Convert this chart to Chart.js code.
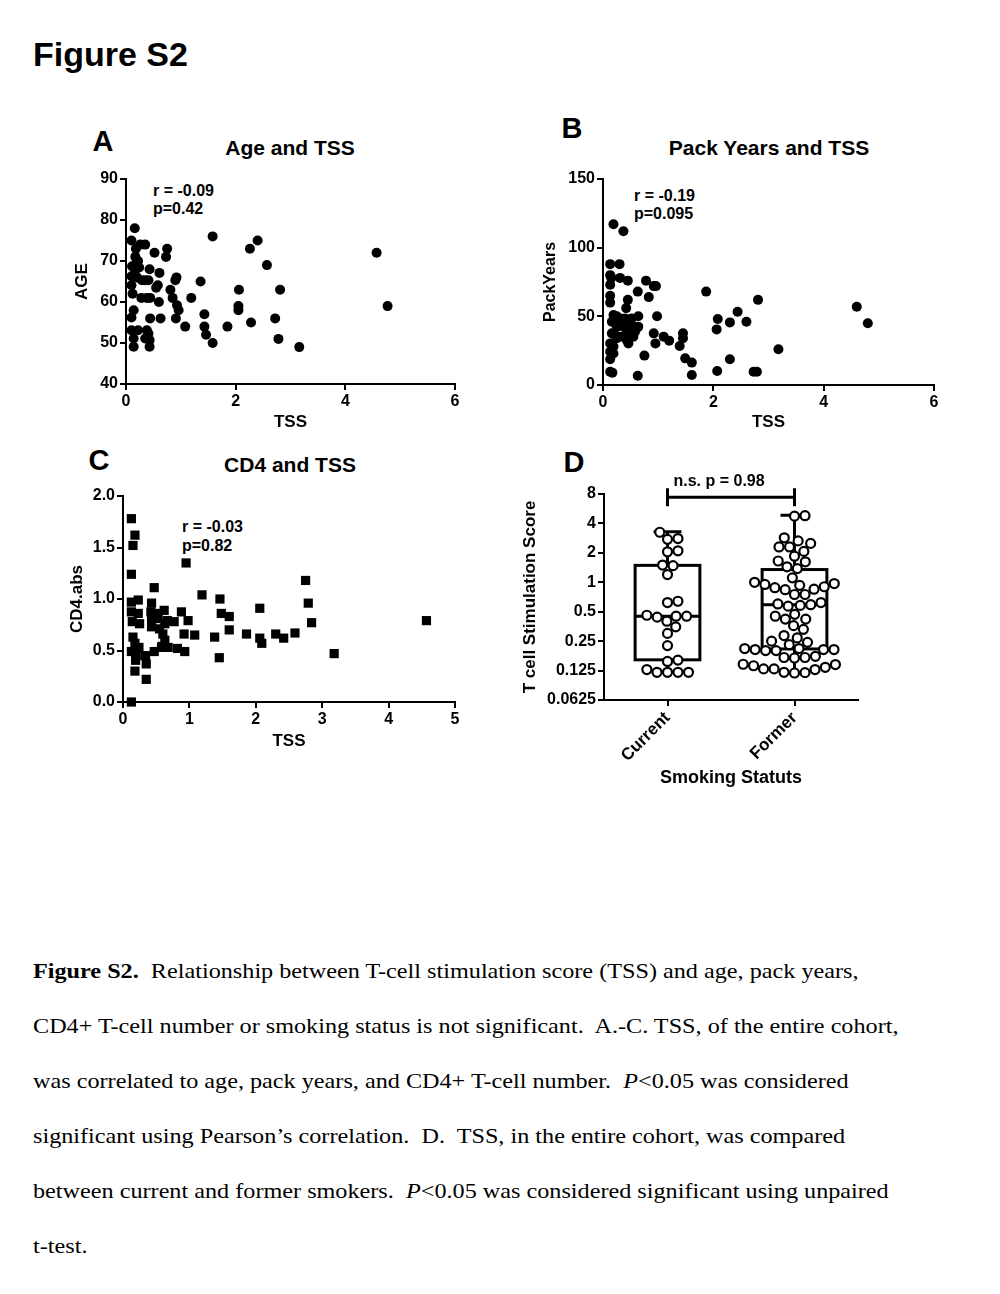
<!DOCTYPE html>
<html>
<head>
<meta charset="utf-8">
<title>Figure S2</title>
<script src="https://cdn.jsdelivr.net/npm/chart.js@4.4.1/dist/chart.umd.min.js"></script>
<style>
  html, body { margin: 0; padding: 0; background: #fff; }
  #page { position: relative; width: 1000px; height: 1294px; background: #fff; overflow: hidden;
          font-family: 'Liberation Sans', Arial, sans-serif; color: #000; }
  .t { position: absolute; line-height: 1; white-space: nowrap; font-weight: bold; }
  .c { transform: translate(-50%, -50%); }
  .l { transform: translate(0, -50%); }
  canvas { position: absolute; }
  #caption { position: absolute; left: 33px; top: 943px; font-family: 'Liberation Serif', 'Times New Roman', serif;
             font-size: 22px; line-height: 55px; white-space: pre;
             transform: scaleX(1.1); transform-origin: 0 0; }
</style>
</head>
<body>
<div id="page">
  <div class="t" style="left:33px;top:37px;font-size:34px;">Figure S2</div>

  <div class="t c" style="left:103px;top:141px;font-size:29px;">A</div>
  <div class="t c" style="left:290px;top:147px;font-size:21px;">Age and TSS</div>
  <div class="t l" style="left:153px;top:191px;font-size:16px;">r = -0.09</div>
  <div class="t l" style="left:153px;top:209px;font-size:16px;">p=0.42</div>

  <div class="t c" style="left:572px;top:128px;font-size:29px;">B</div>
  <div class="t c" style="left:769px;top:147px;font-size:21px;">Pack Years and TSS</div>
  <div class="t l" style="left:634px;top:196px;font-size:16px;">r = -0.19</div>
  <div class="t l" style="left:634px;top:214px;font-size:16px;">p=0.095</div>

  <div class="t c" style="left:99px;top:460px;font-size:29px;">C</div>
  <div class="t c" style="left:290px;top:464px;font-size:21px;">CD4 and TSS</div>
  <div class="t l" style="left:182px;top:527px;font-size:16px;">r = -0.03</div>
  <div class="t l" style="left:182px;top:546px;font-size:16px;">p=0.82</div>

  <div class="t c" style="left:574px;top:462px;font-size:29px;">D</div>

  <canvas id="chartA" width="408" height="273" style="left:72px;top:160px;"></canvas>
  <canvas id="chartB" width="419" height="273" style="left:541px;top:160px;"></canvas>
  <canvas id="chartC" width="413" height="276" style="left:67px;top:476px;"></canvas>
  <canvas id="chartD" width="355" height="323" style="left:520px;top:466px;"></canvas>

  <div id="caption"><b>Figure S2.</b>  Relationship between T-cell stimulation score (TSS) and age, pack years,
CD4+ T-cell number or smoking status is not significant.  A.-C. TSS, of the entire cohort,
was correlated to age, pack years, and CD4+ T-cell number.  <i>P</i>&lt;0.05 was considered
significant using Pearson’s correlation.  D.  TSS, in the entire cohort, was compared
between current and former smokers.  <i>P</i>&lt;0.05 was considered significant using unpaired
t-test.</div>
</div>

<script>
// ---- data ----
// A: Age vs TSS
const A_TSS = [0.16,0.1,0.18,0.26,0.35,0.17,0.11,0.18,0.24,0.17,0.22,0.43,0.1,0.2,0.29,0.41,0.35,0.1,0.12,0.28,
  0.38,0.44,0.14,0.1,0.1,0.22,0.38,0.41,0.14,0.35,0.43,0.14,0.43,0.52,0.61,0.58,0.55,0.6,0.63,0.44,
  0.75,0.73,0.81,0.85,0.9,0.92,0.93,0.96,0.91,1.08,1.19,1.36,1.43,1.43,1.46,1.58,1.58,1.85,2.05,2.05,
  2.06,2.28,2.26,2.4,2.57,2.72,2.81,2.78,3.16,4.57,4.77];
const A_AGE = [78,75,73,74,74,71,68.7,69.2,68.4,67.8,70,68,66.3,66,65.3,65.3,65.3,64.1,62,61,
  61,61,58,56.2,53.1,53.1,53.1,52.3,51.1,51.1,50.7,49.1,49.1,72,67.1,64.1,63.5,60,56,56,
  73,71,63,61,65.3,66,59.2,58,56,54,61,65,57,54,52,50,76,54,59,58,
  63,55,73,75,69,56,63,51,49,72,59];

// B: Pack years vs TSS
const B_TSS = [0.19,0.37,0.13,0.3,0.13,0.15,0.13,0.31,0.45,0.78,0.92,0.96,0.63,0.83,0.45,0.42,0.13,0.13,0.98,0.19,
  0.25,0.31,0.4,0.46,0.52,0.64,0.16,0.22,0.25,0.34,0.46,0.55,0.64,0.16,0.22,0.31,0.43,0.49,0.58,0.61,
  0.13,0.19,0.25,0.43,0.46,0.55,0.13,0.19,0.13,0.13,0.17,0.63,0.75,0.92,0.95,1.1,1.2,1.39,1.45,1.45,
  1.49,1.61,1.61,1.87,2.08,2.06,2.3,2.44,2.6,2.81,2.3,2.07,2.73,2.79,3.18,4.6,4.8];
const B_PACKYEARS = [117,112,88,88,80,78,73,78,76,76,72,72,68,64,62,56,65,60,50,51,
  50,48.5,48.5,47,48.5,50,46,45,42.5,43,44,42.5,42.5,37.6,36.4,35.2,38.8,36.4,38.8,41.3,
  30.3,28,34,32.8,30.3,35.2,24.3,23,18.7,9.7,9,6.8,21.4,37.6,30.3,35.2,32.3,28.4,37.6,34,
  19.4,16.3,7.3,68,48,40.5,45.6,53.4,46,62,18.7,10.2,9.7,9.7,26,57,45];

// C: CD4.abs vs TSS
const C_TSS = [0.126,0.18,0.15,0.126,0.95,0.47,0.43,0.126,0.23,0.126,0.23,0.42,0.5,0.62,0.14,0.25,0.43,0.53,0.43,0.55,
  0.63,0.67,0.77,0.88,0.98,0.15,0.18,0.126,0.24,0.2,0.34,0.6,0.63,0.59,0.47,0.58,0.68,0.19,0.35,0.18,
  0.35,0.126,0.82,0.93,0.92,1.08,1.19,1.46,1.38,1.48,1.6,1.6,1.45,1.86,2.06,2.06,2.09,2.3,2.42,2.59,
  2.75,2.79,2.84,3.18,4.57];
const C_CD4 = [1.78,1.62,1.52,1.24,1.35,1.11,0.96,0.97,0.99,0.875,0.86,0.875,0.86,0.89,0.78,0.76,0.81,0.81,0.73,0.71,
  0.76,0.79,0.78,0.875,0.79,0.63,0.57,0.49,0.53,0.45,0.45,0.66,0.6,0.54,0.49,0.53,0.53,0.405,0.37,0.3,
  0.22,0.0,0.52,0.49,0.66,0.65,1.04,1.0,0.63,0.86,0.83,0.7,0.43,0.66,0.91,0.62,0.57,0.66,0.62,0.67,
  1.18,0.96,0.77,0.47,0.79];

// D: T cell stimulation score by smoking status
const D_GROUPS = ['Current', 'Former'];
const D_CURRENT = [3.25,2.75,2.8,2.05,2.1,1.48,1.5,1.2,0.62,0.64,0.45,0.45,0.44,0.46,0.4,0.35,0.3,0.225,
  0.155,0.16,0.12,0.12,0.12,0.12,0.128];
const D_FORMER = [4.75,4.8,2.85,2.65,2.5,2.3,2.3,2.07,1.85,1.65,1.62,1.44,1.38,1.11,1.0,0.97,0.95,0.93,0.9,0.88,
  0.85,0.84,0.75,0.75,0.62,0.6,0.59,0.58,0.57,0.47,0.45,0.42,0.42,0.36,0.33,0.285,0.27,0.25,0.243,0.23,
  0.21,0.205,0.205,0.2,0.2,0.205,0.21,0.17,0.17,0.168,0.175,0.145,0.144,0.135,0.13,0.128,0.13,0.14,0.119,0.118,0.12];
// min, q1, median, q3, max
const D_BOX_CURRENT = [0.12, 0.161, 0.449, 1.49, 3.28];
const D_BOX_FORMER = [0.118, 0.208, 0.59, 1.35, 4.85];
const D_TICKS = [0.0625, 0.125, 0.25, 0.5, 1, 2, 4, 8];
const D_PVALUE = 'n.s. p = 0.98';

Chart.defaults.font.family = "'Liberation Sans', Arial, sans-serif";
Chart.defaults.color = '#000';
Chart.defaults.animation = false;

function toPoints(xs, ys) {
  return xs.map((x, i) => ({ x: x, y: ys[i] }));
}

// axis in the GraphPad look: black line, outward ticks, no grid
function axis(o) {
  const a = {
    type: o.type || 'linear',
    min: o.min,
    max: o.max,
    title: { display: true, text: o.title, color: '#000', padding: 0,
             font: { size: o.titleSize || 17, weight: 'bold' } },
    ticks: { color: '#000', padding: 2, autoSkip: false,
             font: { size: o.tickSize || 16, weight: 'bold' },
             maxRotation: o.rot || 0, minRotation: o.rot || 0 },
    grid: { display: true, drawOnChartArea: false, drawTicks: true, tickLength: 6,
            color: '#000', lineWidth: 2 },
    border: { display: true, color: '#000', width: 2 },
    afterFit: o.fit
  };
  if (o.step) a.ticks.stepSize = o.step;
  if (o.cb) a.ticks.callback = o.cb;
  if (o.ticksAt) a.afterBuildTicks = (s) => { s.ticks = o.ticksAt.map(v => ({ value: v })); };
  return a;
}

function scatterChart(id, pts, cfg) {
  return new Chart(document.getElementById(id), {
    type: 'scatter',
    data: { datasets: [{ data: pts, clip: false, pointStyle: cfg.pointStyle || 'circle',
                         pointRadius: cfg.radius || 5, pointBorderWidth: 0,
                         pointBackgroundColor: '#000', pointBorderColor: '#000' }] },
    options: {
      responsive: false,
      events: [],
      layout: { padding: cfg.pad },
      plugins: { legend: { display: false }, tooltip: { enabled: false } },
      scales: { x: axis(cfg.x), y: axis(cfg.y) }
    }
  });
}

// A
scatterChart('chartA', toPoints(A_TSS, A_AGE), {
  pad: { top: 19, right: 25, left: 0, bottom: 0 },
  x: { min: 0, max: 6, step: 2, title: 'TSS', fit: s => { s.height = 49; } },
  y: { min: 40, max: 90, step: 10, title: 'AGE', fit: s => { s.width = 54; } }
});

// B
scatterChart('chartB', toPoints(B_TSS, B_PACKYEARS), {
  pad: { top: 19, right: 26, left: 0, bottom: 0 },
  x: { min: 0, max: 6, step: 2, title: 'TSS', fit: s => { s.height = 48; } },
  y: { min: 0, max: 150, step: 50, title: 'PackYears', titleSize: 16, fit: s => { s.width = 62; } }
});

// C
scatterChart('chartC', toPoints(C_TSS, C_CD4), {
  pointStyle: 'rect', radius: 6.5,
  pad: { top: 20, right: 25, left: 0, bottom: 0 },
  x: { min: 0, max: 5, step: 1, title: 'TSS', fit: s => { s.height = 50; } },
  y: { min: 0, max: 2, step: 0.5, title: 'CD4.abs', cb: v => v.toFixed(1), fit: s => { s.width = 56; } }
});

// D: box and whiskers + swarm of open circles
const boxPlugin = {
  id: 'boxes',
  beforeDatasetsDraw(chart) {
    const { ctx, scales: { x, y } } = chart;
    ctx.save();
    ctx.strokeStyle = '#000';
    ctx.lineWidth = 3;
    [D_BOX_CURRENT, D_BOX_FORMER].forEach((s, i) => {
      const cx = x.getPixelForValue(i + 1);
      const hw = x.getPixelForValue(i + 1.255) - cx;
      const cw = x.getPixelForValue(i + 1.11) - cx;
      const [mn, q1, md, q3, mx] = s.map(v => y.getPixelForValue(v));
      ctx.strokeRect(cx - hw, q3, 2 * hw, q1 - q3);
      ctx.beginPath();
      ctx.moveTo(cx - hw, md); ctx.lineTo(cx + hw, md);
      ctx.moveTo(cx, q3); ctx.lineTo(cx, mx);
      ctx.moveTo(cx - cw, mx); ctx.lineTo(cx + cw, mx);
      ctx.moveTo(cx, q1); ctx.lineTo(cx, mn);
      ctx.moveTo(cx - cw, mn); ctx.lineTo(cx + cw, mn);
      ctx.stroke();
    });
    ctx.restore();
  },
  afterDraw(chart) {
    const { ctx, scales: { x, y } } = chart;
    const x1 = x.getPixelForValue(1), x2 = x.getPixelForValue(2);
    const by = y.getPixelForValue(7.4);
    ctx.save();
    ctx.strokeStyle = '#000';
    ctx.lineWidth = 3;
    ctx.beginPath();
    ctx.moveTo(x1, by); ctx.lineTo(x2, by);
    ctx.moveTo(x1, by - 9); ctx.lineTo(x1, by + 9);
    ctx.moveTo(x2, by - 9); ctx.lineTo(x2, by + 9);
    ctx.stroke();
    ctx.fillStyle = '#000';
    ctx.font = "bold 16px 'Liberation Sans', Arial, sans-serif";
    ctx.textBaseline = 'middle';
    ctx.textAlign = 'left';
    ctx.fillText(D_PVALUE, x1 + 6, by - 16);
    ctx.restore();
  }
};

const chartD = new Chart(document.getElementById('chartD'), {
  type: 'scatter',
  data: {
    datasets: [D_CURRENT, D_FORMER].map((vals, g) => ({
      data: vals.map(v => ({ x: g + 1, y: v })),
      clip: false,
      pointRadius: 4.5, pointBorderWidth: 2.2,
      pointBackgroundColor: '#fff', pointBorderColor: '#000'
    }))
  },
  options: {
    responsive: false,
    events: [],
    layout: { padding: { top: 28, right: 17, left: 0, bottom: 0 } },
    plugins: { legend: { display: false }, tooltip: { enabled: false } },
    scales: {
      x: axis({ min: 0.5, max: 2.5, ticksAt: [1, 2], rot: 45, tickSize: 17,
                cb: v => D_GROUPS[v - 1], title: 'Smoking Statuts', titleSize: 18,
                fit: s => { s.height = 89; } }),
      y: axis({ type: 'logarithmic', min: 0.0625, max: 8, ticksAt: D_TICKS,
                cb: v => String(v), title: 'T cell Stimulation Score',
                fit: s => { s.width = 84; } })
    }
  },
  plugins: [boxPlugin]
});

// spread the dots sideways (beeswarm) in pixel space, then map back through the x scale
function swarmOffsets(pys, d) {
  const order = pys.map((_, i) => i).sort((a, b) => pys[b] - pys[a]);
  const placed = [];
  const out = new Array(pys.length).fill(0);
  order.forEach(i => {
    const py = pys[i];
    const cands = [0];
    placed.forEach(p => {
      const dy = Math.abs(p.y - py);
      if (dy < d) {
        const dx = Math.sqrt(d * d - dy * dy);
        cands.push(p.x + dx, p.x - dx);
      }
    });
    cands.sort((a, b) => Math.abs(a) - Math.abs(b));
    const ok = c => placed.every(p => (p.x - c) * (p.x - c) + (p.y - py) * (p.y - py) >= d * d - 0.5);
    const best = cands.find(ok);
    const bx = best === undefined ? 0 : best;
    placed.push({ x: bx, y: py });
    out[i] = bx;
  });
  return out;
}

(function spread() {
  const xs = chartD.scales.x, ys = chartD.scales.y;
  chartD.data.datasets.forEach((ds, g) => {
    const cx = xs.getPixelForValue(g + 1);
    const offs = swarmOffsets(ds.data.map(p => ys.getPixelForValue(p.y)), 10.5);
    ds.data = ds.data.map((p, i) => ({ x: xs.getValueForPixel(cx + offs[i]), y: p.y }));
  });
  chartD.update('none');
})();
</script>
</body>
</html>
